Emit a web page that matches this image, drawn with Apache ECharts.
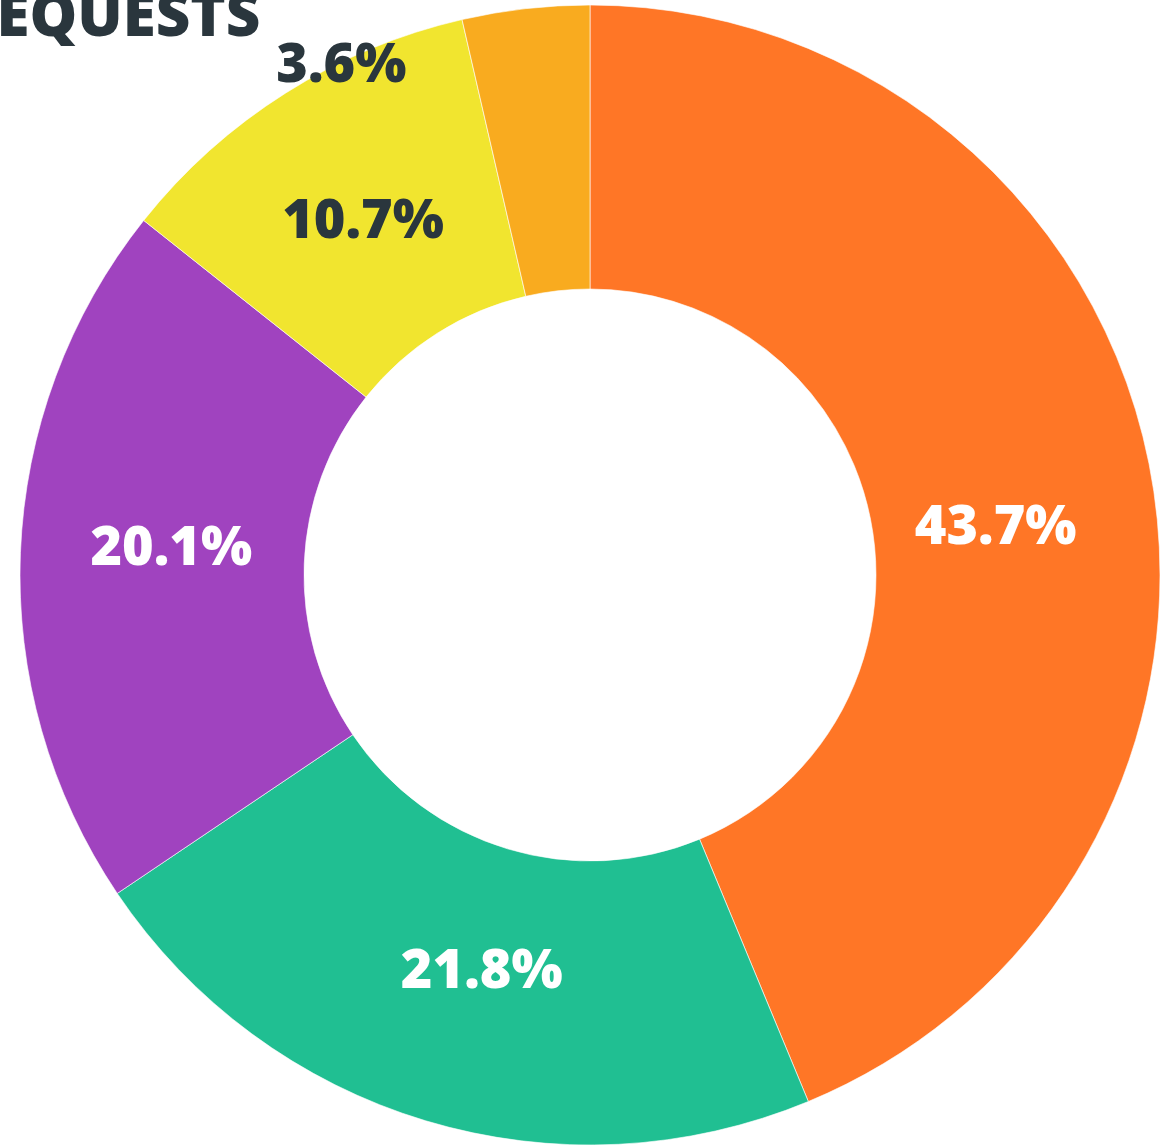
<!DOCTYPE html>
<html>
<head>
<meta charset="utf-8">
<script src="https://cdn.jsdelivr.net/npm/echarts@6/dist/echarts.min.js"></script>
<style>
html,body{margin:0;padding:0;background:#fff}
#chart{width:1161px;height:1145px}
</style>
</head>
<body>
<div id="chart"></div>
<script>
let chart = echarts.init(document.getElementById("chart"))

let categories = ["A","B","C","D","E"]
let shares = [43.7,21.8,20.1,10.7,3.6]
let colors = ["#ff7626","#20bf92","#a043bf","#f1e52f","#f9ab1f"]
let labelColors = ["#ffffff","#ffffff","#ffffff","#2a363d","#2a363d"]
let labelOffsets = [[-17,38],[16,-15],[12,-8],[3,12],[-200,-80]]

let pieData = categories.map((name,i)=>({
    name:name,
    value:shares[i],
    itemStyle:{color:colors[i]},
    label:{color:labelColors[i],offset:labelOffsets[i]}
}))

chart.setOption({
    animation:false,
    title:{
        text:"REQUESTS",
        left:-49,
        top:-16,
        textStyle:{fontFamily:"Open Sans",fontWeight:800,fontSize:60,color:"#2a363d"}
    },
    series:[{
        type:"pie",
        center:[590,575],
        radius:[286,570],
        startAngle:90,
        clockwise:true,
        avoidLabelOverlap:false,
        itemStyle:{borderColor:"rgba(255,255,255,0.6)",borderWidth:1},
        label:{
            show:true,
            position:"inside",
            formatter:p=>p.value.toFixed(1)+"%",
            fontFamily:"Open Sans",
            fontWeight:800,
            fontSize:54
        },
        labelLine:{show:false},
        emphasis:{disabled:true},
        data:pieData
    }]
})
</script>
</body>
</html>
